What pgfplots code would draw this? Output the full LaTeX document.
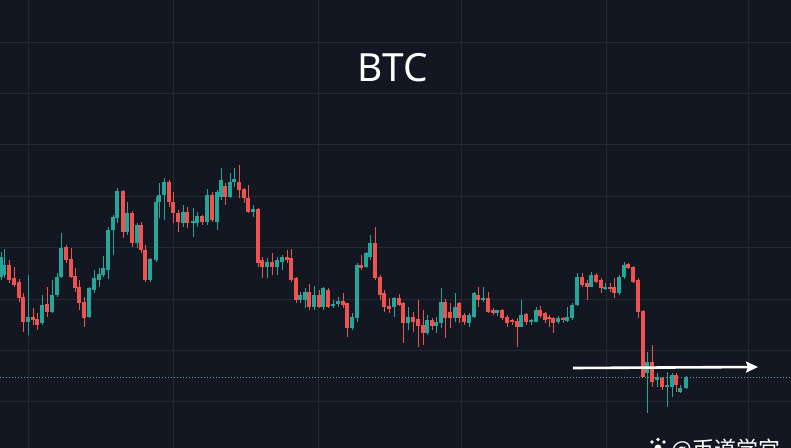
\documentclass[border=0pt]{standalone}
\usepackage{pgfplots}
\usepackage{pgfplotstable}
\pgfplotsset{compat=1.18}
\usetikzlibrary{arrows.meta}
\usepackage{fontspec}
\setmainfont{Noto Sans}
\newfontfamily\cjk{Noto Sans CJK SC}

\definecolor{bg}{HTML}{131722}
\definecolor{gridc}{HTML}{242833}
\definecolor{up}{HTML}{26A69A}
\definecolor{down}{HTML}{EF5350}
\definecolor{lastline}{HTML}{5E9F9C}

% candles in screen units (y grows downwards): x open high low close
\pgfplotstableread{
x o h l c
1 277 252 280 257
4 275 249 278 265
28 322 275 335 317
42 323 295 325 305
52 312 280 313 295
57 295 273 297 277
61 277 233 278 248
89 317 287 318 288
94 290 270 293 278
99 280 268 287 274
103 275 256 277 268
108 270 227 279 230
113 230 215 255 217
117 218 188 223 191
127 232 202 235 213
137 243 223 248 225
150 280 258 282 259
156 260 197 262 202
159 202 183 218 195
164 195 178 220 182
183 223 205 227 212
193 223 208 237 221
197 223 212 227 216
207 222 189 225 195
217 222 190 230 192
221 197 168 200 180
230 197 173 198 182
234 182 168 187 179
253 212 205 217 209
267 267 258 278 262
277 267 257 275 260
282 262 255 270 257
300 300 292 303 295
305 300 288 308 292
314 307 286 310 295
323 307 287 310 288
333 306 300 308 304
338 304 297 307 301
352 328 313 330 317
357 318 263 322 265
366 267 252 268 253
370 257 235 260 243
394 307 297 317 298
408 323 307 330 317
427 333 315 335 320
436 326 317 333 322
441 323 288 328 302
455 318 293 322 307
469 323 313 327 315
474 317 292 318 293
483 300 287 302 298
497 313 310 316 310
521 327 300 327 315
531 322 319 325 320
536 322 307 322 310
558 322 316 324 318
567 321 307 322 317
572 318 303 320 305
577 305 273 306 277
591 287 272 287 275
605 289 283 290 287
619 293 275 295 277
624 277 262 279 265
647 373 352 413 362
657 380 373 387 377
667 387 372 407 385
672 387 373 397 375
680 392 385 393 388
686 388 376 389 377
}\upcandles

\pgfplotstableread{
x o h l c
9 265 260 283 280
14 278 267 287 285
19 282 279 302 298
23 297 293 332 322
33 317 308 325 320
37 319 313 330 325
47 304 287 317 312
66 247 245 263 260
71 259 248 278 277
75 276 268 292 288
79 287 280 310 303
84 302 297 327 318
123 191 190 238 232
132 213 211 247 243
141 225 222 253 250
145 250 245 282 280
169 182 180 207 202
173 202 192 223 213
178 213 210 232 222
187 212 207 228 223
202 216 215 225 222
212 195 192 222 220
225 186 183 205 197
239 182 165 198 190
244 189 188 203 198
248 198 185 213 212
258 209 208 267 263
262 260 257 278 267
272 262 253 275 267
287 257 250 263 260
291 258 249 282 280
296 278 277 303 300
309 292 284 310 307
319 295 290 308 307
328 290 288 308 307
343 301 293 308 305
347 303 303 337 328
361 265 255 270 268
375 243 227 280 278
380 277 275 300 295
384 293 290 312 307
389 306 298 313 309
399 298 294 306 305
403 303 302 343 323
413 317 312 332 322
418 319 300 347 326
423 325 310 345 333
432 320 318 330 326
445 302 299 338 318
450 312 303 328 318
459 303 302 323 318
464 315 313 325 322
478 295 287 307 300
488 298 292 313 312
493 310 308 315 313
502 310 309 320 318
507 317 315 327 323
512 320 319 325 322
517 321 318 347 327
526 314 313 325 322
540 310 306 318 316
545 313 312 323 320
549 317 315 327 319
553 318 317 333 323
563 318 317 323 320
582 277 273 287 285
587 283 280 300 287
596 275 273 283 282
601 280 278 293 288
610 287 283 292 289
614 287 278 298 293
628 264 263 269 268
633 267 266 283 282
638 280 278 318 312
643 311 310 377 377
652 362 345 387 382
662 378 377 390 387
676 375 373 392 385
}\downcandles

\pgfplotsset{
  wick/.style={draw=none, mark=none, forget plot,
    error bars/.cd, y dir=both, y explicit, error mark=none,
    error bar style={draw=#1, line width=1bp}},
  body/.style={draw=none, mark=none, forget plot,
    error bars/.cd, y dir=both, y explicit, error mark=none,
    error bar style={draw=#1, line width=3.3bp}},
}

\begin{document}
\begin{tikzpicture}
\path[use as bounding box] (0,0) rectangle (791bp,448bp);
\fill[bg] (0,0) rectangle (791bp,448bp);
\begin{axis}[
  at={(0,0)}, anchor=south west,
  scale only axis, width=791bp, height=448bp,
  xmin=0, xmax=791, ymin=0, ymax=448, y dir=reverse,
  axis line style={draw=none}, tick style={draw=none},
  xtick={28,173,318,461,606,748},
  ytick={42,93.4,144.8,196.2,247.6,299,350.4,401.8},
  xticklabels={}, yticklabels={},
  grid=major, major grid style={draw=gridc, line width=0.8bp},
]
% last price line
\addplot[lastline, line width=0.9bp, dash pattern=on 1bp off 2bp, forget plot]
  coordinates {(0,377) (791,377)};

\addplot[wick=up] table[x=x, y expr={(\thisrow{h}+\thisrow{l})/2},
  y error expr={max((\thisrow{l}-\thisrow{h})/2,0.5)}] {\upcandles};
\addplot[body=up] table[x=x, y expr={(\thisrow{o}+\thisrow{c})/2},
  y error expr={max(abs(\thisrow{o}-\thisrow{c})/2,0.6)}] {\upcandles};
\addplot[wick=down] table[x=x, y expr={(\thisrow{h}+\thisrow{l})/2},
  y error expr={max((\thisrow{l}-\thisrow{h})/2,0.5)}] {\downcandles};
\addplot[body=down] table[x=x, y expr={(\thisrow{o}+\thisrow{c})/2},
  y error expr={max(abs(\thisrow{o}-\thisrow{c})/2,0.6)}] {\downcandles};

% arrow
\draw[white, line width=2.6bp, -{Stealth[length=12bp,width=11bp,inset=2bp]}]
  (axis cs:573,368) -- (axis cs:758,367);

\node[white, anchor=base, font=\fontsize{39}{39}\selectfont] at (axis cs:393,82) {BTC};

% watermark
\fill[white] (axis cs:652,442) circle (1.8bp) (axis cs:658,439.5) circle (1.8bp)
  (axis cs:664,442) circle (1.8bp) (axis cs:658,448) circle (3.5bp);
\node[white, anchor=base west, font=\fontsize{22}{22}\cjk] at (axis cs:668,457) {@币道学宫};
\end{axis}
\end{tikzpicture}
\end{document}
